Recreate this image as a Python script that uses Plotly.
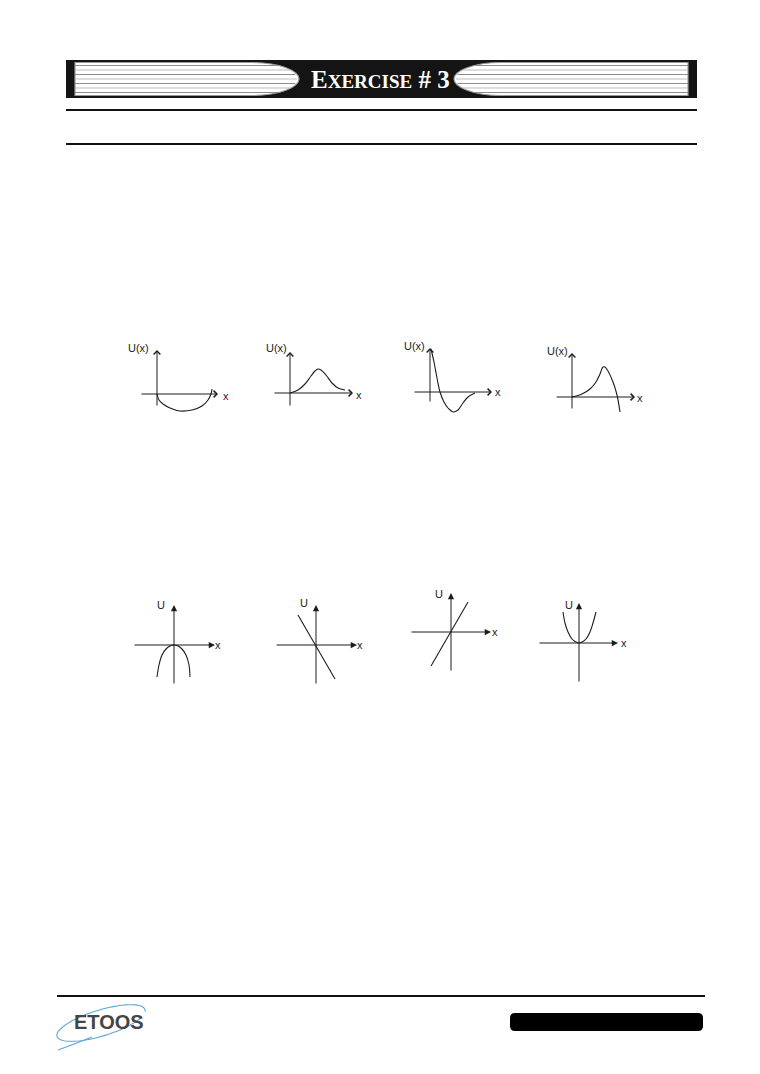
import numpy as np
import plotly.graph_objects as go

W, H = 760, 1074

# ---------------- data: the eight sketches (units = px offsets from each origin, y up) ----------------
curve_x = [
    [0, 2, 6, 13, 23, 35, 45, 51, 54, 55],
    [0, 8, 15, 21, 25, 28, 31, 36, 42, 48, 55],
    [1, 4, 7, 10, 14, 18, 23, 28, 33, 38, 45],
    [0, 10, 18, 24, 28, 31, 33, 36, 41, 45, 48],
    [-17, -15, -12, -8, -4, 0, 4, 8, 12, 15, 16],
    [-18, 19],
    [-20, 17],
    [-16, -14, -11, -7, -3, 0, 3, 7, 11, 14, 17],
]
curve_y = [
    [0, -6, -10, -14, -17, -16, -12, -6, 0, 5],
    [0, 3, 9, 17, 22, 24, 23, 18, 10, 5, 3],
    [43, 30, 14, 0, -10, -16, -20, -18, -11, -5, -1],
    [0, 3, 8, 15, 23, 30, 30, 26, 15, 2, -15],
    [-32, -20, -10, -4, -1, 0, -1, -4, -10, -20, -32],
    [30, -34],
    [-34, 30],
    [31, 20, 11, 4, 1, 0, 1, 4, 11, 20, 31],
]
x_axis_start = [-17, -17, -17, -17, -41, -41, -41, -41]
x_axis_end = [61, 63, 62, 63, 41, 41, 40, 39]
y_axis_start = [-13, -14, -11, -13, -40, -40, -40, -40]
y_axis_end = [44, 41, 44, 44, 40, 40, 39, 40]
y_labels = ["U(x)", "U(x)", "U(x)", "U(x)", "U", "U", "U", "U"]
x_labels = ["x"] * 8

# ---------------- layout positions ----------------
panel_origin = [(157, 394), (290, 393), (430, 392), (572, 397),
                (174, 645), (316, 645), (451, 632), (579, 643)]
ylab_pos = [(-6, 46), (-1, 45), (-3, 46), (-2, 46), (-7, 40), (-6, 42), (-6, 38), (-4, 38)]
xlab_pos = [(69, -2), (69, -2), (68, 0), (68, -1), (44, 0), (44, 0), (44, 0), (45, 0)]
spline = [True, True, True, True, True, False, False, True]
BOX_X = (-50, 80)
BOX_Y = (-48, 58)

ink = "#1c1c1c"
fig = go.Figure()
layout = dict(width=W, height=H, margin=dict(l=0, r=0, t=0, b=0), autosize=False,
              paper_bgcolor="white", plot_bgcolor="rgba(0,0,0,0)", showlegend=False)

# page axis (pixel coordinates) for decorations
layout["xaxis"] = dict(domain=[0, 1], range=[0, W], visible=False, fixedrange=True)
layout["yaxis"] = dict(domain=[0, 1], range=[H, 0], visible=False, fixedrange=True)

annotations = []
shapes = []

for i in range(8):
    n = i + 2
    ox, oy = panel_origin[i]
    xd = [(ox + BOX_X[0]) / W, (ox + BOX_X[1]) / W]
    yd = [1 - (oy - BOX_Y[0]) / H, 1 - (oy - BOX_Y[1]) / H]
    layout[f"xaxis{n}"] = dict(domain=xd, range=list(BOX_X), visible=False,
                               anchor=f"y{n}", fixedrange=True)
    layout[f"yaxis{n}"] = dict(domain=yd, range=list(BOX_Y), visible=False,
                               anchor=f"x{n}", fixedrange=True)
    xa, ya = f"x{n}", f"y{n}"
    fig.add_trace(go.Scatter(
        x=curve_x[i], y=curve_y[i], mode="lines", xaxis=xa, yaxis=ya,
        line=dict(color=ink, width=1.1, shape="spline" if spline[i] else "linear",
                  smoothing=1.0), hoverinfo="skip"))
    row1 = i < 4
    ah = 4 if row1 else 2
    asz = 1.3 if row1 else 1.25
    annotations.append(dict(x=x_axis_end[i], y=0, ax=x_axis_start[i], ay=0,
                            xref=xa, yref=ya, axref=xa, ayref=ya, text="",
                            showarrow=True, arrowhead=ah, arrowsize=asz,
                            arrowwidth=1, arrowcolor=ink, standoff=0))
    annotations.append(dict(x=0, y=y_axis_end[i], ax=0, ay=y_axis_start[i],
                            xref=xa, yref=ya, axref=xa, ayref=ya, text="",
                            showarrow=True, arrowhead=ah, arrowsize=asz,
                            arrowwidth=1, arrowcolor=ink, standoff=0))
    annotations.append(dict(x=ylab_pos[i][0], y=ylab_pos[i][1], xref=xa, yref=ya,
                            text=y_labels[i], showarrow=False, xanchor="right",
                            yanchor="middle",
                            font=dict(family="Liberation Sans", size=11, color="#222")))
    annotations.append(dict(x=xlab_pos[i][0], y=xlab_pos[i][1], xref=xa, yref=ya,
                            text=x_labels[i], showarrow=False, xanchor="center",
                            yanchor="middle",
                            font=dict(family="Liberation Sans", size=11, color="#222")))

# ---------------- header banner ----------------
def S(**kw):
    d = dict(xref="x", yref="y", layer="above")
    d.update(kw)
    shapes.append(d)

S(type="rect", x0=66, x1=697, y0=60, y1=98, fillcolor="#141414", line=dict(width=0))
S(type="path", path="M 75,62.5 L 252,62.5 C 280,62.5 299,71 299,79 C 299,87 280,95.5 252,95.5 L 75,95.5 Z",
  fillcolor="white", line=dict(color="#9a9a9a", width=1.2))
S(type="path", path="M 688,62.5 L 501,62.5 C 473,62.5 454,71 454,79 C 454,87 473,95.5 501,95.5 L 688,95.5 Z",
  fillcolor="white", line=dict(color="#9a9a9a", width=1.2))
stripe_y = [65.5, 70, 74.5, 79, 83.5, 88, 92.5]
for k, sy in enumerate(stripe_y):
    t = np.sqrt(max(0.0, 1 - ((sy - 79) / 16.8) ** 2))
    col = "#8c8c8c" if k % 2 == 0 else "#bdbdbd"
    S(type="line", x0=75, x1=252 + 45 * t, y0=sy, y1=sy, line=dict(color=col, width=1.2))
    S(type="line", x0=501 - 45 * t, x1=688, y0=sy, y1=sy, line=dict(color=col, width=1.2))

annotations.append(dict(x=380, y=79.5, xref="x", yref="y", showarrow=False,
                        text="<b>E<span style='font-size:19px'>XERCISE</span> # 3</b>",
                        xanchor="center", yanchor="middle",
                        font=dict(family="Liberation Serif", size=25, color="white")))

# rules
S(type="line", x0=66, x1=697, y0=110, y1=110, line=dict(color="#111", width=2))
S(type="line", x0=66, x1=697, y0=144, y1=144, line=dict(color="#111", width=2))

# ---------------- footer ----------------
S(type="line", x0=57, x1=705, y0=996, y1=996, line=dict(color="#111", width=2))
r = 5
x0, x1, y0, y1 = 510, 703, 1013, 1031
S(type="path",
  path=f"M {x0+r},{y0} L {x1-r},{y0} Q {x1},{y0} {x1},{y0+r} L {x1},{y1-r} Q {x1},{y1} {x1-r},{y1} "
       f"L {x0+r},{y1} Q {x0},{y1} {x0},{y1-r} L {x0},{y0+r} Q {x0},{y0} {x0+r},{y0} Z",
  fillcolor="black", line=dict(width=0))

# ETOOS swoosh
tt = np.linspace(0.15 * np.pi, 2.05 * np.pi, 80)
a, b, rot = 46, 13, np.deg2rad(-17)
cx, cy = 101, 1023
ex = cx + a * np.cos(tt) * np.cos(rot) - b * np.sin(tt) * np.sin(rot)
ey = cy + a * np.cos(tt) * np.sin(rot) + b * np.sin(tt) * np.cos(rot)
p = "M " + " L ".join(f"{u:.1f},{v:.1f}" for u, v in zip(ex, ey))
S(type="path", path=p, line=dict(color="#5aa7d8", width=1.1))
S(type="path", path="M 92,1037 Q 75,1044 58,1050", line=dict(color="#5aa7d8", width=1.1))
annotations.append(dict(x=109, y=1022, xref="x", yref="y", showarrow=False,
                        text="<b>ETOOS</b>", xanchor="center", yanchor="middle",
                        font=dict(family="Liberation Sans Narrow, Liberation Sans", size=20,
                                  color="#454545")))

layout["annotations"] = annotations
layout["shapes"] = shapes
fig.update_layout(**layout)
fig.write_html("out.html", config={"displayModeBar": False})
